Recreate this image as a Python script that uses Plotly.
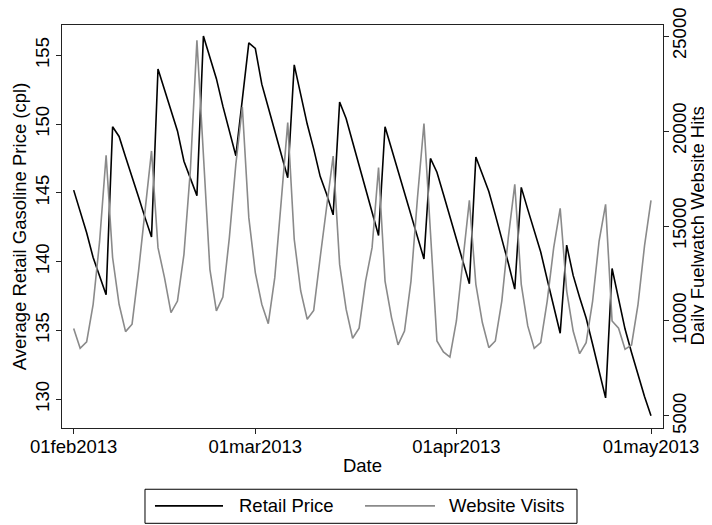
import pandas as pd
import plotly.graph_objects as go

# ---- data ----
dates = pd.date_range("2013-02-01", periods=90, freq="D")

retail_price = [
    145.2, 143.7, 142.1, 140.3, 139.0, 137.6, 149.8, 149.1, 147.6, 146.2,
    144.7, 143.2, 141.8, 154.0, 152.5, 151.0, 149.5, 147.3, 146.1, 144.8,
    156.4, 154.8, 153.3, 151.3, 149.4, 147.7, 151.8, 155.9, 155.5, 152.9,
    151.2, 149.5, 147.8, 146.1, 154.3, 152.2, 150.0, 148.2, 146.2, 144.9,
    143.4, 151.6, 150.4, 148.7, 147.0, 145.4, 143.7, 141.9, 149.8, 148.2,
    146.6, 145.0, 143.4, 141.9, 140.2, 147.5, 146.5, 144.9, 143.3, 141.7,
    140.1, 138.4, 147.6, 146.4, 145.1, 143.4, 141.7, 139.9, 138.0, 145.4,
    143.8, 142.2, 140.7, 138.7, 136.8, 134.8, 141.2, 139.0, 137.4, 135.9,
    134.0, 132.1, 130.1, 139.5, 137.4, 135.1, 133.4, 131.8, 130.2, 128.8,
]

website_visits = [
    9600, 8560, 8900, 10880, 14200, 18720, 13340, 10880, 9440, 9830,
    12630, 15790, 18950, 13860, 12280, 10440, 11050, 13510, 18000, 24770,
    18700, 12720, 10530, 11260, 14390, 18250, 21260, 15440, 12550, 10880,
    9860, 12280, 16320, 20440, 14300, 11580, 10090, 10560, 13340, 16140,
    18680, 12980, 10620, 9090, 9620, 12100, 13860, 18070, 12100, 10180,
    8740, 9470, 12100, 16490, 20390, 14670, 8950, 8370, 8100, 10000,
    13340, 16350, 11930, 9920, 8600, 8950, 11050, 14390, 17190, 11930,
    9740, 8560, 8860, 11050, 13860, 15930, 11580, 9470, 8280, 8860,
    11050, 14210, 16140, 10000, 9620, 8510, 8740, 10880, 13950, 16350,
]

x_tickvals = ["2013-02-01", "2013-03-01", "2013-04-01", "2013-05-01"]
x_ticktext = ["01feb2013", "01mar2013", "01apr2013", "01may2013"]
y1_ticks = [130, 135, 140, 145, 150, 155]
y2_ticks = [5000, 10000, 15000, 20000, 25000]
y2_ticktext = ["5000", "10000", "15000", "20000", "25000"]

series_names = ["Retail Price", "Website Visits"]
axis_titles = ["Date", "Average Retail Gasoline Price (cpl)", "Daily Fuelwatch Website Hits"]
PRICE_COLOR = "#000000"
VISIT_COLOR = "#8a8a8a"

FONT = "Liberation Sans, Arial, Helvetica, sans-serif"
FS = 18.5

fig = go.Figure()
fig.add_trace(go.Scatter(x=dates, y=retail_price, mode="lines", name=series_names[0],
                         line=dict(color=PRICE_COLOR, width=1.6), yaxis="y"))
fig.add_trace(go.Scatter(x=dates, y=website_visits, mode="lines", name=series_names[1],
                         line=dict(color=VISIT_COLOR, width=1.6), yaxis="y2"))

axis_common = dict(showgrid=False, zeroline=False, showline=True, linecolor="#222",
                   linewidth=1.2, ticks="outside", ticklen=5, tickcolor="#222",
                   ticklabeloverflow="allow", automargin=False,
                   tickfont=dict(family=FONT, size=FS, color="black"))

# the page body adds an 8px offset; margins are chosen so the plot frame lands
# at x 62-663, y 25-428 of the 712x525 window
fig.update_layout(
    width=712, height=525,
    margin=dict(l=54, r=57, t=17, b=105),
    paper_bgcolor="white", plot_bgcolor="white",
    showlegend=False,
    font=dict(family=FONT, size=FS, color="black"),
    xaxis=dict(**axis_common, type="date", mirror=True,
               range=["2013-01-30 04:48", "2013-05-02 20:24"],
               tickvals=x_tickvals, ticktext=x_ticktext, ticklabelstandoff=-3,
               title=dict(text=axis_titles[0], font=dict(family=FONT, size=FS), standoff=2)),
    yaxis=dict(**axis_common, range=[127.91, 157.2], tickvals=y1_ticks, tickangle=-90,
               ticklabelstandoff=0,
               title=dict(text=axis_titles[1], font=dict(family=FONT, size=FS), standoff=0)),
    yaxis2=dict(**axis_common, overlaying="y", side="right", range=[4368, 25579],
                tickvals=y2_ticks, ticktext=y2_ticktext, tickangle=-90,
                ticklabelstandoff=-5),
)

# legend drawn as a framed box below the plot (matches the long line keys)
shapes = [
    dict(type="rect", xref="paper", yref="paper", x0=0.1381, x1=0.8569, y0=-0.2365, y1=-0.152,
         line=dict(color="black", width=1), fillcolor="white"),
    dict(type="line", xref="paper", yref="paper", x0=0.1547, x1=0.2679, y0=-0.1933, y1=-0.1933,
         line=dict(color=PRICE_COLOR, width=1.6)),
    dict(type="line", xref="paper", yref="paper", x0=0.5042, x1=0.6206, y0=-0.1933, y1=-0.1933,
         line=dict(color=VISIT_COLOR, width=1.6)),
]
annotations = [
    dict(xref="paper", yref="paper", x=0.2912, y=-0.1933, xanchor="left", yanchor="middle",
         text=series_names[0], showarrow=False, font=dict(family=FONT, size=FS)),
    dict(xref="paper", yref="paper", x=0.6406, y=-0.1933, xanchor="left", yanchor="middle",
         text=series_names[1], showarrow=False, font=dict(family=FONT, size=FS)),
    # right axis title
    dict(xref="paper", yref="paper", x=1.0566, y=0.5, xanchor="center", yanchor="middle",
         text=axis_titles[2], textangle=-90, showarrow=False,
         font=dict(family=FONT, size=FS)),
]
fig.update_layout(shapes=shapes, annotations=annotations)

fig.write_html("out.html")
